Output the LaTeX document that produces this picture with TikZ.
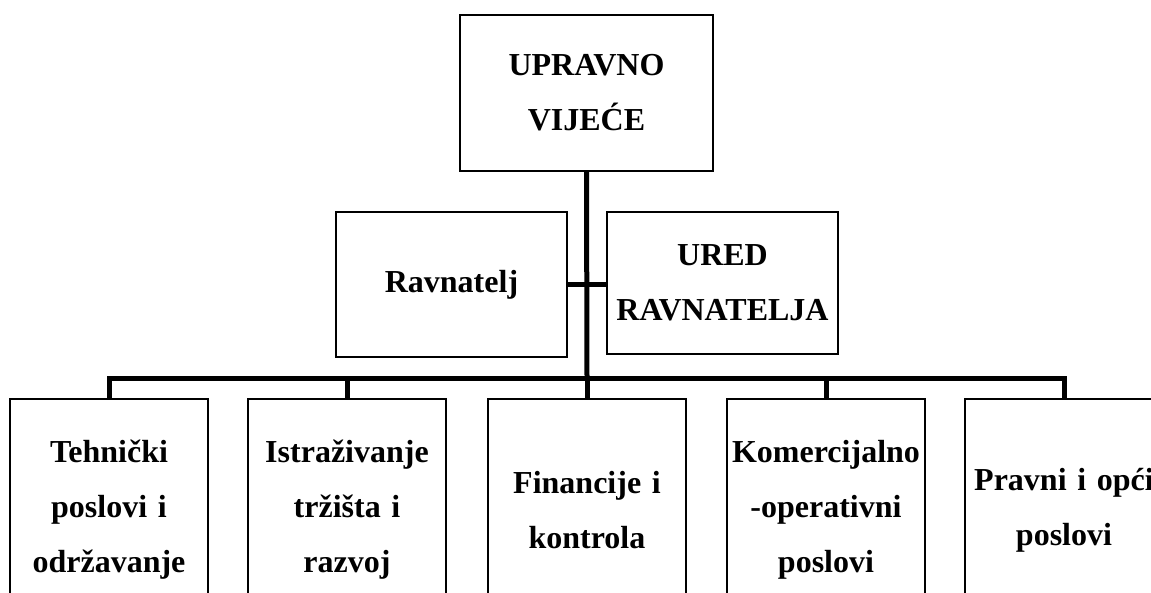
\documentclass[tikz,border=0pt]{standalone}
\usepackage{fontspec}
\setmainfont{Liberation Serif}
\usetikzlibrary{positioning}

\begin{document}
\begin{tikzpicture}[x=1pt, y=-1pt,
    unit/.style={rectangle, draw, line width=1.8pt, align=center, inner sep=1pt,
        font=\fontsize{32}{55}\selectfont\bfseries},
    dept/.style={unit, anchor=north, text width=196pt, minimum height=222pt},
    link/.style={line width=5pt}]
    \useasboundingbox (0,0) rectangle (1151,592);
    \clip (0,0) rectangle (1151,592);

    % Draw the board and the director
    \node[unit, minimum width=253pt, minimum height=156pt] (uv) at (586.5, 93) {UPRAVNO\\VIJEĆE};
    \node[unit, minimum width=231pt, minimum height=145pt] (rav) at (451.5, 284.5) {Ravnatelj};
    \node[unit, minimum width=231pt, minimum height=142pt] (ured) at (722.5, 283) {URED\\RAVNATELJA};

    % Draw nodes for the departments
    \node[dept] (o1) at (109, 398) {Tehnički\\poslovi i\\održavanje};
    \node[dept] (o2) at (347, 398) {Istraživanje\\tržišta i\\razvoj};
    \node[dept] (o3) at (587, 398) {Financije i\\kontrola};
    \node[dept] (o4) at (826, 398) {Komercijalno\\-operativni\\poslovi};
    \node[dept] (o5) at (1064, 398) {Pravni i opći\\poslovi};

    \coordinate (bar) at (587, 378);

    % Draw the connectors
    \draw[link] (uv.south) -- (bar);
    \draw[link] (rav.east) -- (rav.east -| ured.west);
    \draw[link] (o1.north) -- (o1.north |- bar) -- (o5.north |- bar) -- (o5.north);
    \draw[link] (o2.north) -- (o2.north |- bar);
    \draw[link] (o3.north) -- (o3.north |- bar);
    \draw[link] (o4.north) -- (o4.north |- bar);

\end{tikzpicture}
\end{document}
